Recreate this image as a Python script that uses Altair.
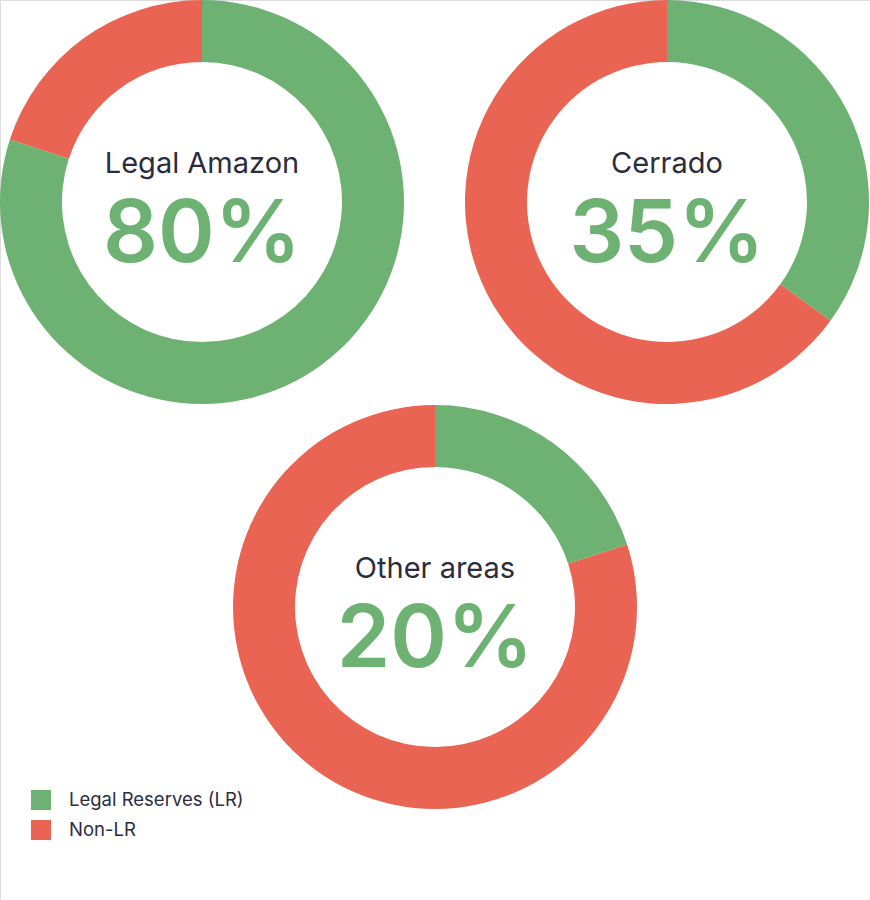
import altair as alt
import pandas as pd

# ---- data ----
regions = ["Legal Amazon", "Cerrado", "Other areas"]
lr_share = [80, 35, 20]
categories = ["Legal Reserves (LR)", "Non-LR"]
colors = ["#6db273", "#e96453"]

# centres of each donut (layout)
centers = {"Legal Amazon": (202, 202), "Cerrado": (667, 202), "Other areas": (435, 607)}

rows = []
for r, v in zip(regions, lr_share):
    rows.append({"region": r, "category": categories[0], "value": v, "order": 0})
    rows.append({"region": r, "category": categories[1], "value": 100 - v, "order": 1})
df = pd.DataFrame(rows)
labels = pd.DataFrame({"region": regions, "pct": [f"{v}%" for v in lr_share]})

color_scale = alt.Scale(domain=categories, range=colors)

layers = []
for i, r in enumerate(regions):
    cx, cy = centers[r]
    arc = (
        alt.Chart(df)
        .transform_filter(alt.datum.region == r)
        .mark_arc(radius=202, innerRadius=140, stroke=None)
        .encode(
            theta=alt.Theta("value:Q", stack=True, scale=alt.Scale(domain=[0, 100])),
            color=alt.Color(
                "category:N",
                scale=color_scale,
                legend=alt.Legend(
                    title=None,
                    orient="none",
                    legendX=31,
                    legendY=790,
                    symbolType="square",
                    symbolSize=400,
                    symbolStrokeWidth=0,
                    labelFontSize=18.5,
                    labelFont="Inter",
                    labelColor="#2b2d3e",
                    labelOffset=18,
                    labelLimit=400,
                    rowPadding=10,
                ) if i == 0 else None,
            ),
            order=alt.Order("order:Q"),
            x=alt.value(cx),
            y=alt.value(cy),
        )
    )
    name = (
        alt.Chart(labels)
        .transform_filter(alt.datum.region == r)
        .mark_text(font="Inter", fontSize=29, color="#2b2d3e", align="center", baseline="alphabetic")
        .encode(text="region:N", x=alt.value(cx), y=alt.value(cy - 29))
    )
    pct = (
        alt.Chart(labels)
        .transform_filter(alt.datum.region == r)
        .mark_text(font="Inter", fontSize=86, fontWeight=600, color="#6db273", align="center", baseline="alphabetic")
        .encode(text="pct:N", x=alt.value(cx), y=alt.value(cy + 60))
    )
    layers += [arc, name, pct]

chart = (
    alt.layer(*layers)
    .resolve_legend(color="shared")
    .properties(width=870, height=900, padding=0, autosize=alt.AutoSizeParams(type="none"))
    .configure_view(stroke=None)
    .configure(background="white")
)

chart.save("out.html", embed_options={"renderer": "svg", "actions": False})
